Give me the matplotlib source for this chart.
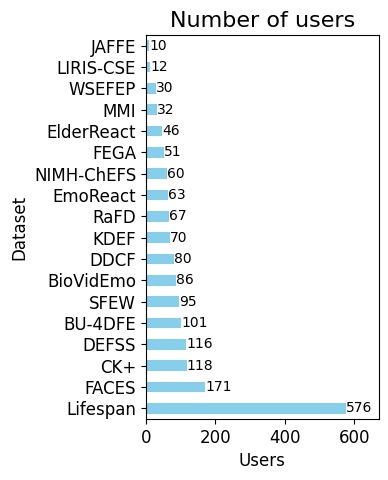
import numpy as np
import matplotlib
matplotlib.use('Agg')
import matplotlib.pyplot as plt

datasets = ['Lifespan', 'FACES', 'CK+', 'DEFSS', 'BU-4DFE', 'SFEW', 'BioVidEmo', 'DDCF',
            'KDEF', 'RaFD', 'EmoReact', 'NIMH-ChEFS', 'FEGA', 'ElderReact', 'MMI',
            'WSEFEP', 'LIRIS-CSE', 'JAFFE']
users = [576, 171, 118, 116, 101, 95, 86, 80, 70, 67, 63, 60, 51, 46, 32, 30, 12, 10]

fig, ax = plt.subplots(figsize=(3.88, 4.8), dpi=100)
y = np.arange(len(datasets))
bars = ax.barh(y, users, height=0.5, color='skyblue')
for b, v in zip(bars, users):
    ax.text(b.get_width(), b.get_y() + b.get_height() / 2, str(v),
            va='center', ha='left', fontsize=10)
ax.set_yticks(y)
ax.set_yticklabels(datasets, fontsize=12)
ax.set_ylim(-0.5, len(datasets) - 0.5)
ax.set_xlim(0, 670)
ax.tick_params(axis='x', labelsize=12)
ax.set_xlabel('Users', fontsize=12)
ax.set_ylabel('Dataset', fontsize=12)
ax.set_title('Number of users', fontsize=16)
fig.subplots_adjust(left=0.376, right=0.976, top=0.927, bottom=0.127)
fig.savefig('out.png', dpi=100)
